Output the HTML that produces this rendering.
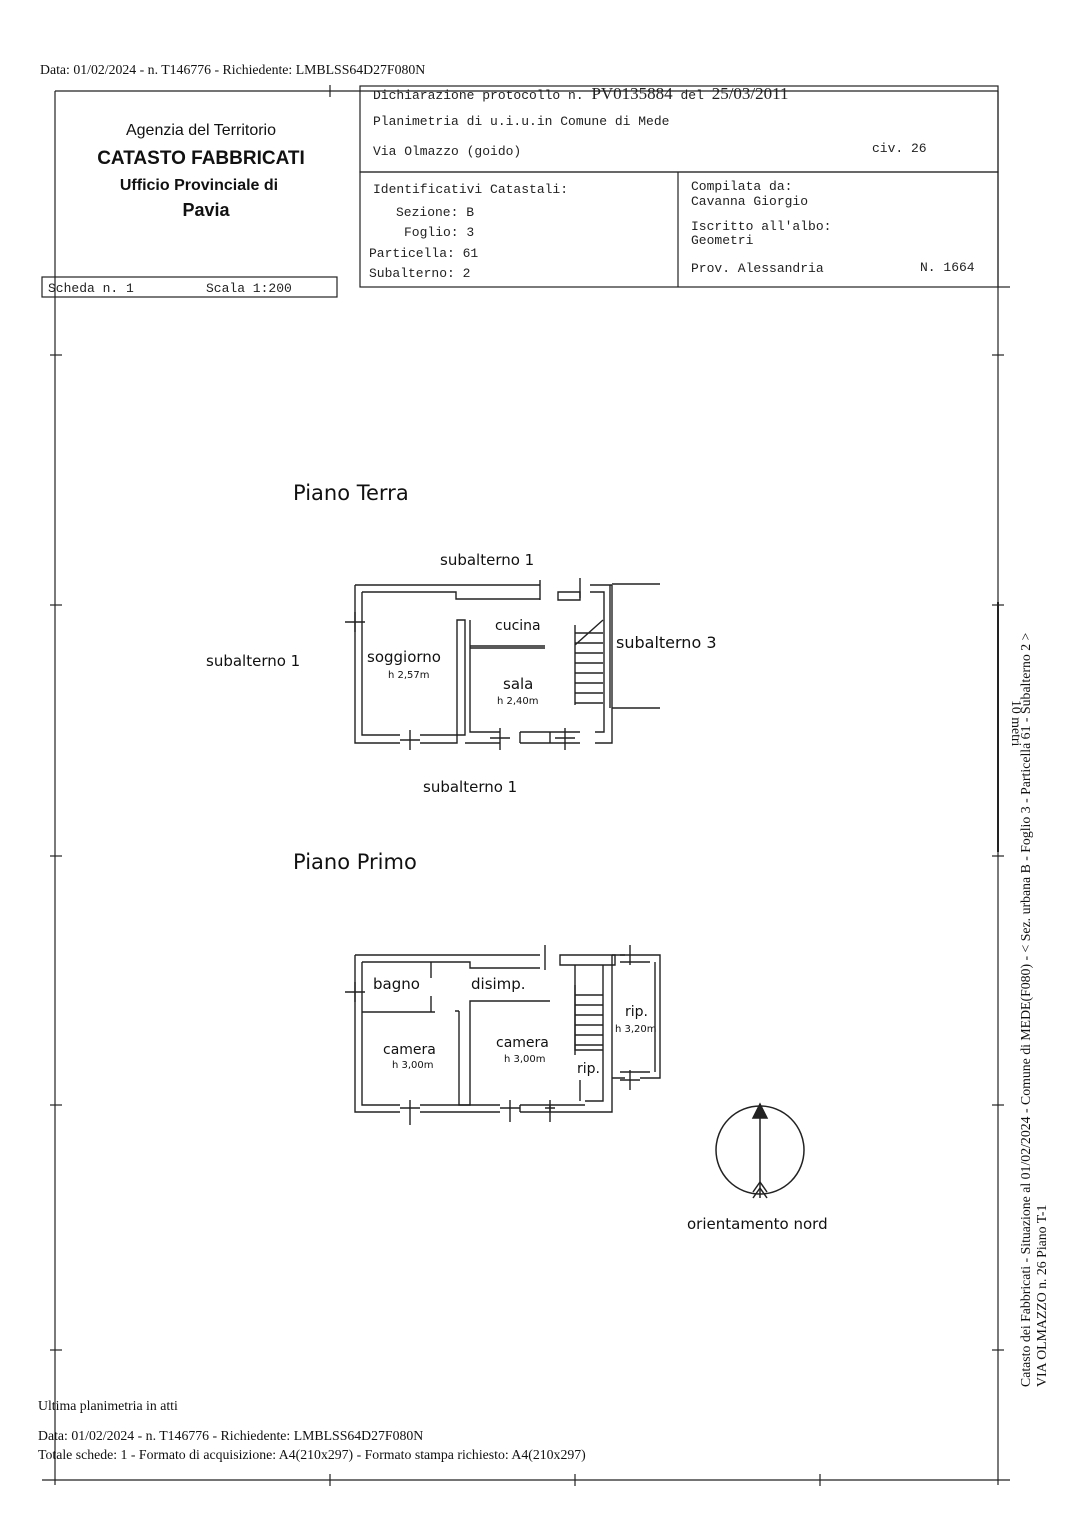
<!DOCTYPE html>
<html><head><meta charset="utf-8"><style>
body{margin:0;background:#fff;}
svg{display:block}
.m{font-family:"Liberation Mono",monospace;font-size:13px;fill:#222}
.s{font-family:"Liberation Serif",serif;font-size:13.8px;fill:#111}
.a{font-family:"Liberation Sans",sans-serif;fill:#111}
.h{font-family:"DejaVu Sans",sans-serif;fill:#111}
</style></head><body>
<svg width="1086" height="1536" viewBox="0 0 1086 1536" xmlns="http://www.w3.org/2000/svg">
<rect width="1086" height="1536" fill="#fff"/>
<g stroke="#222" fill="none" stroke-width="1.2">
<text class="s" x="40" y="74" stroke="none">Data: 01/02/2024 - n. T146776 - Richiedente: LMBLSS64D27F080N</text>
<line x1="55" y1="91" x2="998" y2="91"/>
<line x1="55" y1="91" x2="55" y2="1485"/>
<line x1="998" y1="91" x2="998" y2="1485"/>
<line x1="42" y1="1480" x2="1010" y2="1480"/>
<rect x="360" y="86" width="638" height="86"/>
<rect x="360" y="172" width="638" height="115"/>
<line x1="678" y1="172" x2="678" y2="287"/>
<rect x="42" y="277" width="295" height="20"/>
<line x1="998" y1="287" x2="1010" y2="287"/>
<line x1="50" y1="355" x2="62" y2="355"/><line x1="50" y1="605" x2="62" y2="605"/><line x1="50" y1="856" x2="62" y2="856"/><line x1="50" y1="1105" x2="62" y2="1105"/><line x1="50" y1="1350" x2="62" y2="1350"/>
<line x1="992" y1="355" x2="1004" y2="355"/><line x1="992" y1="605" x2="1004" y2="605"/><line x1="992" y1="856" x2="1004" y2="856"/><line x1="992" y1="1105" x2="1004" y2="1105"/><line x1="992" y1="1350" x2="1004" y2="1350"/>
<line x1="330" y1="85" x2="330" y2="97"/><line x1="330" y1="1474" x2="330" y2="1486"/><line x1="575" y1="1474" x2="575" y2="1486"/><line x1="820" y1="1474" x2="820" y2="1486"/>
<line x1="998" y1="602" x2="998" y2="852" stroke-width="2"/>
</g>
<text class="a" x="201" y="135" font-size="16" text-anchor="middle">Agenzia del Territorio</text>
<text class="a" x="201" y="164" font-size="19" font-weight="bold" text-anchor="middle">CATASTO FABBRICATI</text>
<text class="a" x="199" y="190" font-size="16" font-weight="bold" text-anchor="middle">Ufficio Provinciale di</text>
<text class="a" x="206" y="216" font-size="18" font-weight="bold" text-anchor="middle">Pavia</text>
<text class="m" x="373" y="99">Dichiarazione protocollo n. <tspan font-family="Liberation Serif" font-size="17">PV0135884</tspan> del <tspan font-family="Liberation Serif" font-size="17">25/03/2011</tspan></text>
<text class="m" x="373" y="125">Planimetria di u.i.u.in Comune di Mede</text>
<text class="m" x="373" y="155">Via Olmazzo (goido)</text>
<text class="m" x="872" y="152">civ. 26</text>
<text class="m" x="373" y="193">Identificativi Catastali:</text>
<text class="m" x="396" y="216">Sezione: B</text>
<text class="m" x="404" y="236">Foglio: 3</text>
<text class="m" x="369" y="257">Particella: 61</text>
<text class="m" x="369" y="277">Subalterno: 2</text>
<text class="m" x="691" y="190">Compilata da:</text>
<text class="m" x="691" y="205">Cavanna Giorgio</text>
<text class="m" x="691" y="230">Iscritto all'albo:</text>
<text class="m" x="691" y="244">Geometri</text>
<text class="m" x="691" y="272">Prov. Alessandria</text>
<text class="m" x="920" y="271">N. 1664</text>
<text class="m" x="48" y="292">Scheda n. 1</text>
<text class="m" x="206" y="292">Scala 1:200</text>
<text class="h" x="293" y="500" font-size="21">Piano Terra</text>
<text class="h" x="293" y="869" font-size="21">Piano Primo</text>
<text class="h" x="440" y="565" font-size="15">subalterno 1</text>
<text class="h" x="206" y="666" font-size="15">subalterno 1</text>
<text class="h" x="616" y="648" font-size="16">subalterno 3</text>
<text class="h" x="423" y="792" font-size="15">subalterno 1</text>
<text class="h" x="367" y="662" font-size="15">soggiorno</text>
<text class="h" x="388" y="678" font-size="10">h 2,57m</text>
<text class="h" x="495" y="630" font-size="14">cucina</text>
<text class="h" x="503" y="689" font-size="15">sala</text>
<text class="h" x="497" y="704" font-size="10">h 2,40m</text>
<text class="h" x="373" y="989" font-size="15">bagno</text>
<text class="h" x="471" y="989" font-size="15">disimp.</text>
<text class="h" x="383" y="1054" font-size="14">camera</text>
<text class="h" x="392" y="1068" font-size="10">h 3,00m</text>
<text class="h" x="496" y="1047" font-size="14">camera</text>
<text class="h" x="504" y="1062" font-size="10">h 3,00m</text>
<text class="h" x="625" y="1016" font-size="14">rip.</text>
<text class="h" x="615" y="1032" font-size="10">h 3,20m</text>
<text class="h" x="577" y="1073" font-size="14">rip.</text>
<text class="h" x="687" y="1229" font-size="15">orientamento nord</text>
<g stroke="#222" fill="none" stroke-width="1.4">
<path d="M355 585 H540 M362 592 H456 V599 H540 M355 585 V743 H400 M362 592 V735 H400 M420 735 H465 V620 H457 V743 H420"/>
<path d="M470 620 V732 H500 M465 743 H500 M520 732 H580 M520 743 H580 M520 732 V743 M550 732 V743"/>
<path d="M595 732 H604 V592 H590 M612 585 V743 H595 M590 585 H612 M558 592 H580 V600 H558 Z M612 584 H660 M612 708 H660 M610 585 V708"/>
<path d="M470 646 H545 M470 648 H545"/>
<path d="M575 625 V705 M575 633 H603 M575 643 H603 M575 653 H603 M575 663 H603 M575 673 H603 M575 683 H603 M575 693 H603 M575 703 H603 M575 645 L603 620"/>
<path d="M345 622 H365 M355 612 V632 M410 730 V750 M400 740 H420 M500 728 V750 M490 738 H510 M565 728 V750 M555 738 H575 M540 580 V600 M580 578 V598"/>
</g>
<g stroke="#222" fill="none" stroke-width="1.4">
<path d="M355 955 H540 M362 962 H470 V968 H540 M355 955 V1112 H400 M362 962 V1105 H400 M420 1105 H500 M420 1112 H500 M520 1105 H585 M520 1112 H585 M520 1105 V1112 M550 1105 V1112"/>
<path d="M362 1012 H435 M431 962 V978 M431 996 V1012 M459 1011 V1105 H470 V1001 H550 M459 1011 H455"/>
<path d="M560 955 H615 V965 H560 Z M575 965 V1050 H603 V965 M603 965 V1101 H585 M612 955 V1112 H585 M580 1080 V1101"/>
<path d="M575 985 V1055 M575 995 H603 M575 1005 H603 M575 1015 H603 M575 1025 H603 M575 1035 H603 M575 1045 H603"/>
<path d="M612 955 H625 M640 955 H660 V1078 H640 M612 1078 H625 M620 962 H650 M620 1072 H650 M655 962 V1072"/>
<path d="M345 992 H365 M355 982 V1002 M410 1100 V1125 M400 1108 H420 M510 1100 V1122 M500 1108 H520 M550 1100 V1122 M545 1108 H555 M545 945 V970 M630 945 V965 M620 955 H640 M630 1070 V1090 M620 1080 H640"/>
</g>
<g stroke="#222" fill="none" stroke-width="1.5">
<circle cx="760" cy="1150" r="44"/>
<line x1="760" y1="1104" x2="760" y2="1198"/>
<path d="M753 1118 L760 1104 L767 1118 Z" fill="#222"/>
<path d="M753 1192 L760 1182 L767 1192 M753 1198 L760 1188 L767 1198"/>
</g>
<text class="s" transform="translate(1012,700) rotate(90)" font-size="11">10 metri</text>
<text class="s" transform="translate(1030,1387) rotate(-90)" font-size="13.8">Catasto dei Fabbricati - Situazione al 01/02/2024 - Comune di MEDE(F080) - &lt; Sez. urbana B - Foglio 3 - Particella 61 - Subalterno 2 &gt;</text>
<text class="s" transform="translate(1046,1387) rotate(-90)" font-size="13.8">VIA OLMAZZO n. 26 Piano T-1</text>
<text class="s" x="38" y="1410">Ultima planimetria in atti</text>
<text class="s" x="38" y="1440">Data: 01/02/2024 - n. T146776 - Richiedente: LMBLSS64D27F080N</text>
<text class="s" x="38" y="1459">Totale schede: 1 - Formato di acquisizione: A4(210x297)  - Formato stampa richiesto: A4(210x297)</text>
</svg>
</body></html>
